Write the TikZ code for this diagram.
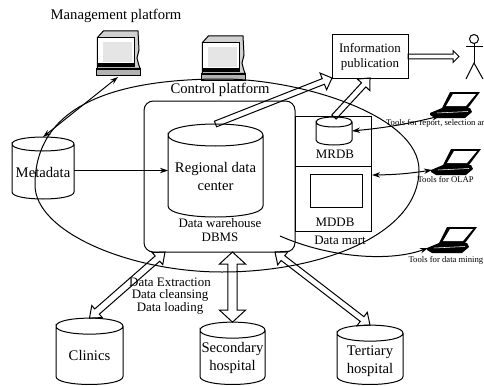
\documentclass[tikz,border=0pt]{standalone}
\usepackage{fontspec}
\setmainfont{Liberation Serif}
\usetikzlibrary{calc,arrows.meta,shapes.geometric}
\tikzset{every picture/.style={line width=0.75pt}}
\tikzset{
  bigtxt/.style={font=\fontsize{11}{13.5}\selectfont,inner sep=0.75pt,align=center},
  midtxt/.style={font=\fontsize{9.7}{10.5}\selectfont,inner sep=0.75pt,align=center},
  toolstxt/.style={font=\fontsize{6.5}{7}\selectfont,inner sep=0pt},
  store/.style={inner sep=0pt,outer sep=0pt},
  boxed/.style={draw,inner sep=0pt,outer sep=0pt},
  link/.style={{Stealth[length=6pt,width=4pt]}-{Stealth[length=6pt,width=4pt]}},
  computer/.pic={
    \draw [fill=black!18] (0.3,6.7) -- (6.3,0) -- (41,0) -- (42,19) -- (40,27) -- (41.5,33) -- (43,37.3) -- (0.3,37.3) -- cycle ;
    \draw [fill=white] (0.3,6.7) rectangle (37.3,35.7) ;
    \fill [black!10] (5.5,11.5) rectangle (35,31) ;
    \fill (0.3,31.5) rectangle (37.3,35.7) ;
    \draw [fill=black!30] (-1,37.3) rectangle (43,44) ;
    \draw [line width=1.2pt] (-1,38.3) -- (43,38.3) ;
    \coordinate (-base) at (21,46) ;
  },
  laptop/.pic={
    \fill (17,23) -- (25,7) -- (55,7) -- (43,23) -- cycle ;
    \fill [white] (21,21) -- (28,9) -- (51,9) -- (41,21) -- cycle ;
    \fill (5,28) -- (17,23) -- (45,23) -- (47,27) -- (40,33) -- (10,33) -- (5,30) -- cycle ;
    \draw [white,line width=0.4pt] (12,28) -- (43,26.5) ;
    \coordinate (-left) at (6,28) ;
    \coordinate (-front) at (15,31) ;
  },
  every pic/.style={yscale=-1}
}
\newcommand{\hollowarrow}[5]{% from, to, half shaft, half head, head length
  \coordinate (hd) at ($#2!#5!#1$);
  \draw ($#1!#3!90:#2$) -- ($(hd)!#3!-90:#1$) -- ($(hd)!#4!-90:#1$) -- #2 -- ($(hd)!#4!90:#1$) -- ($(hd)!#3!90:#1$) -- ($#1!#3!-90:#2$) -- cycle ;
}
\newcommand{\hollowboth}[5]{% both ends carry a head
  \coordinate (hd) at ($#2!#5!#1$);
  \coordinate (tl) at ($#1!#5!#2$);
  \draw #1 -- ($(tl)!#4!90:#2$) -- ($(tl)!#3!90:#2$) -- ($(hd)!#3!-90:#1$) -- ($(hd)!#4!-90:#1$) -- #2 -- ($(hd)!#4!90:#1$) -- ($(hd)!#3!90:#1$) -- ($(tl)!#3!-90:#2$) -- ($(tl)!#4!-90:#2$) -- cycle ;
}
\newcommand{\drum}[2]{% outline round a named node, cap height
  \draw ($(#1.north west)+(0,#2)$) .. controls ($(#1.north west)+(0,-#2/3)$) and ($(#1.north east)+(0,-#2/3)$) .. ($(#1.north east)+(0,#2)$) .. controls ($(#1.north east)+(0,#2*7/3)$) and ($(#1.north west)+(0,#2*7/3)$) .. ($(#1.north west)+(0,#2)$) -- ($(#1.south west)+(0,-#2)$) .. controls ($(#1.south west)+(0,#2/3)$) and ($(#1.south east)+(0,#2/3)$) .. ($(#1.south east)+(0,-#2)$) -- ($(#1.north east)+(0,#2)$) ;
}
\begin{document}
\begin{tikzpicture}[x=0.75pt,y=0.75pt,yscale=-1,xscale=1]
\path [use as bounding box] (0,0) rectangle (484,385);

%Shape: Rectangles
\node [boxed,rounded corners=7pt,minimum width=113.25pt,minimum height=113.25pt] (warehouse) at (219.5,176.5) {};
\node [boxed,minimum width=57pt,minimum height=37.5pt] (mrdbbox) at (333,141) {};
\node [boxed,minimum width=57pt,minimum height=48.75pt] (mddbbox) at (333,198.5) {};
\node [boxed,minimum width=39pt,minimum height=24.75pt] (mddbcube) at (336,190.5) {};
\node [boxed,minimum width=57pt,minimum height=32.25pt,bigtxt,font=\fontsize{9.7}{11.25}\selectfont] (info) at (370,56.5) {Information\\publication};

%Shape: Cylinders
\node [store,minimum width=71.25pt,minimum height=69.75pt] (regional) at (215.5,170.5) {};
\node [store,minimum width=46.5pt,minimum height=46.5pt] (metadata) at (43,168) {};
\node [store,minimum width=27pt,minimum height=21pt] (mrdb) at (334,131) {};
\node [store,minimum width=50.25pt,minimum height=49.75pt] (clinics) at (89.5,351.3) {};
\node [store,minimum width=48.75pt,minimum height=46.75pt] (secondary) at (232.5,353.3) {};
\node [store,minimum width=49.5pt,minimum height=44.5pt] (tertiary) at (370,354.8) {};
\drum{regional}{11}
\drum{metadata}{7}
\drum{mrdb}{5}
\drum{clinics}{8}
\drum{secondary}{8}
\drum{tertiary}{8}

%Computers and laptops
\pic (mgmt) at (97,31) {computer};
\pic (ctrl) at (202,36) {computer};
\pic (report) at (425,85) {laptop};
\pic (olap) at (426,142) {laptop};
\pic (mining) at (422,220) {laptop};

%Stick figure
\node [draw,circle,inner sep=0pt,outer sep=0pt,minimum size=6.75pt] (head) at (474,39) {};
\coordinate (hip) at (474,63);
\coordinate (armL) at (466,47);
\coordinate (armR) at (483,47);
\coordinate (footL) at (466,79);
\coordinate (footR) at (483,79);
\draw (head.south) -- (hip) ;
\draw (armL) -- (armR) ;
\draw (footL) -- (hip) -- (footR) ;

%Hollow arrows
\coordinate (person) at (459,56.5);
\coordinate (wclinics) at (165,252);
\coordinate (wsecondary) at (232.5,252);
\coordinate (wtertiary) at (275,252);
\hollowarrow{(info.east)}{(person)}{1.7pt}{4.5pt}{4.5pt}
\hollowarrow{(regional.north)}{(info.south west)}{2.25pt}{6.75pt}{7pt}
\hollowarrow{(mrdb.north)}{(info.south)}{2.25pt}{6.4pt}{7pt}
\hollowboth{(clinics.north)}{(wclinics)}{2.6pt}{6pt}{7.5pt}
\hollowboth{(secondary.north)}{(wsecondary)}{3.4pt}{9.75pt}{9pt}
\hollowboth{(tertiary.north)}{(wtertiary)}{2.25pt}{6.4pt}{7.5pt}

%Straight Lines
\draw [link] (metadata.north) -- (mgmt-base) ;
\draw [-{Stealth[length=6pt,width=4pt]}] (metadata.east |- regional.west) -- (regional.west) ;
\draw [link] (mrdb.east) to [bend left=4] (report-front) ;
\coordinate (martport) at ($(mddbbox.north east)+(1,9)$);
\draw [link] (martport) to [bend left=4] (olap-left) ;
\coordinate (minestart) at (280,236);
\draw [-{Stealth[length=6pt,width=4pt]}] (minestart) .. controls (330,258) and (390,262) .. (mining-left) ;

%Shape: Ellipse
\draw (35,185) .. controls (35,105) and (115,79) .. (222,79) .. controls (300,79) and (419,115) .. (419,170) .. controls (419,235) and (320,272) .. (222,272) .. controls (130,272) and (35,232) .. (35,185) -- cycle ;

% Text Node
\node [bigtxt] (mgmtlabel) at (116,16) {Management platform};
\node [bigtxt] (ctrllabel) at (220,90) {Control platform};
\node [bigtxt] (regionallabel) at (215.5,176) {Regional data\\center};
\node [bigtxt] (metadatalabel) at (43,172) {Metadata};
\node [bigtxt] (clinicslabel) at (89.5,355) {Clinics};
\node [bigtxt] (secondarylabel) at (232.5,358) {Secondary\\hospital};
\node [bigtxt] (tertiarylabel) at (370,361) {Tertiary\\hospital};
\node [midtxt] (dwlabel) at (220,230) {Data warehouse\\DBMS};
\node [midtxt] (mrdblabel) at (335,154) {MRDB};
\node [midtxt] (mddblabel) at (335,222) {MDDB};
\node [midtxt] (martlabel) at (340,240) {Data mart};
\node [midtxt,font=\fontsize{9.7}{9.4}\selectfont] (etllabel) at (170,296) {Data Extraction\\Data cleansing\\Data loading};
\node [toolstxt,anchor=west] (reportlabel) at (385.5,123) {Tools for report, selection an};
\node [toolstxt,anchor=west] (olaplabel) at (417,179) {Tools for OLAP};
\node [toolstxt,anchor=west] (mininglabel) at (408,260) {Tools for data mining};

\end{tikzpicture}
\end{document}
